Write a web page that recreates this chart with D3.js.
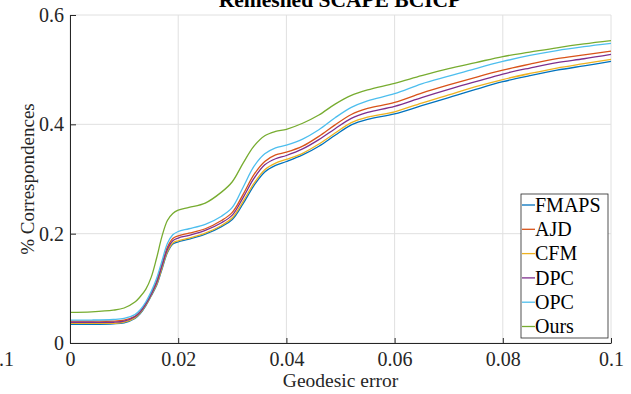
<!DOCTYPE html>
<html>
<head>
<meta charset="utf-8">
<script src="https://cdn.jsdelivr.net/npm/d3@7"></script>
<style>
  body { margin: 0; background: #fff; }
  text { font-family: "Liberation Serif", "Times New Roman", serif; fill: #262626; }
</style>
</head>
<body>
<svg id="chart"></svg>
<script>
// geodesic error thresholds
const errors = [0, 0.004, 0.008, 0.01, 0.012, 0.013, 0.014, 0.015, 0.016, 0.017, 0.018, 0.019, 0.02, 0.022, 0.025, 0.028, 0.03, 0.032, 0.034, 0.036, 0.038, 0.04, 0.043, 0.046, 0.049, 0.052, 0.055, 0.06, 0.065, 0.07, 0.075, 0.08, 0.085, 0.09, 0.095, 0.1];

const fmaps = [0.034, 0.034, 0.035, 0.037, 0.045, 0.054, 0.068, 0.086, 0.105, 0.135, 0.165, 0.181, 0.185, 0.190, 0.199, 0.213, 0.226, 0.255, 0.288, 0.313, 0.325, 0.332, 0.344, 0.360, 0.380, 0.399, 0.409, 0.419, 0.434, 0.449, 0.464, 0.478, 0.489, 0.499, 0.507, 0.515];
const ajd   = [0.040, 0.040, 0.040, 0.042, 0.049, 0.058, 0.072, 0.091, 0.113, 0.144, 0.175, 0.191, 0.196, 0.201, 0.209, 0.224, 0.239, 0.272, 0.308, 0.332, 0.344, 0.349, 0.360, 0.378, 0.399, 0.418, 0.429, 0.440, 0.457, 0.472, 0.486, 0.499, 0.510, 0.520, 0.527, 0.534];
const cfm   = [0.036, 0.036, 0.036, 0.038, 0.046, 0.055, 0.069, 0.087, 0.107, 0.137, 0.167, 0.183, 0.187, 0.192, 0.201, 0.215, 0.229, 0.259, 0.292, 0.317, 0.329, 0.336, 0.347, 0.364, 0.384, 0.403, 0.413, 0.423, 0.439, 0.454, 0.469, 0.482, 0.493, 0.503, 0.511, 0.519];
const dpc   = [0.038, 0.038, 0.038, 0.040, 0.048, 0.057, 0.071, 0.089, 0.110, 0.141, 0.171, 0.187, 0.192, 0.197, 0.206, 0.220, 0.234, 0.266, 0.301, 0.326, 0.337, 0.343, 0.355, 0.372, 0.392, 0.411, 0.422, 0.433, 0.449, 0.464, 0.478, 0.492, 0.503, 0.513, 0.520, 0.528];
const opc   = [0.042, 0.042, 0.043, 0.045, 0.052, 0.061, 0.075, 0.094, 0.118, 0.150, 0.182, 0.198, 0.204, 0.209, 0.217, 0.232, 0.248, 0.285, 0.323, 0.346, 0.357, 0.362, 0.373, 0.390, 0.412, 0.431, 0.443, 0.456, 0.474, 0.488, 0.502, 0.515, 0.526, 0.535, 0.542, 0.548];
const ours  = [0.056, 0.057, 0.060, 0.064, 0.075, 0.085, 0.098, 0.120, 0.155, 0.195, 0.224, 0.237, 0.243, 0.248, 0.256, 0.276, 0.295, 0.329, 0.360, 0.379, 0.387, 0.391, 0.402, 0.417, 0.437, 0.453, 0.463, 0.475, 0.489, 0.502, 0.513, 0.524, 0.532, 0.540, 0.547, 0.553];

const methods = ["FMAPS", "AJD", "CFM", "DPC", "OPC", "Ours"];
const seriesValues = [fmaps, ajd, cfm, dpc, opc, ours];
const colors = ["#0072BD", "#D95319", "#EDB120", "#7E2F8E", "#4DBEEE", "#77AC30"];

const xTicks = [0, 0.02, 0.04, 0.06, 0.08, 0.1];
const yTicks = [0, 0.2, 0.4, 0.6];

const width = 631, height = 394;
const margin = { top: 15, right: 20, bottom: 51, left: 70 };

const svg = d3.select("#chart")
  .attr("width", width)
  .attr("height", height);

const x = d3.scaleLinear()
  .domain([0, 0.1])
  .range([margin.left, width - margin.right]);

const y = d3.scaleLinear()
  .domain([0, 0.6])
  .range([height - margin.bottom, margin.top]);

// grid
svg.append("g")
  .selectAll("line")
  .data(xTicks)
  .join("line")
    .attr("x1", d => x(d)).attr("x2", d => x(d))
    .attr("y1", y(0)).attr("y2", y(0.6))
    .attr("stroke", "#e0e0e0");

svg.append("g")
  .selectAll("line")
  .data(yTicks)
  .join("line")
    .attr("x1", x(0)).attr("x2", x(0.1))
    .attr("y1", d => y(d)).attr("y2", d => y(d))
    .attr("stroke", "#e0e0e0");

// curves
const line = d3.line()
  .x(d => x(d[0]))
  .y(d => y(d[1]))
  .curve(d3.curveCatmullRom.alpha(0.5));

seriesValues.forEach((vals, i) => {
  svg.append("path")
    .datum(errors.map((e, j) => [e, vals[j]]))
    .attr("fill", "none")
    .attr("stroke", colors[i])
    .attr("stroke-width", 1.3)
    .attr("d", line);
});

// axes
const xAxis = d3.axisBottom(x)
  .tickValues(xTicks)
  .tickFormat(d3.format("~g"))
  .tickSizeInner(-5)
  .tickSizeOuter(0)
  .tickPadding(9);

const yAxis = d3.axisLeft(y)
  .tickValues(yTicks)
  .tickFormat(d3.format("~g"))
  .tickSizeInner(-6)
  .tickSizeOuter(0)
  .tickPadding(6);

const gx = svg.append("g")
  .attr("transform", `translate(0,${y(0)})`)
  .call(xAxis);

const gy = svg.append("g")
  .attr("transform", `translate(${x(0)},0)`)
  .call(yAxis);

[gx, gy].forEach(g => {
  g.selectAll(".domain, line").attr("stroke", "#262626");
  g.selectAll("text")
    .attr("fill", "#262626")
    .style("font-size", "20px")
    .style("font-family", "'Liberation Serif', serif");
});

// stray label from the neighbouring panel
svg.append("text")
  .attr("x", 14)
  .attr("y", 366)
  .attr("text-anchor", "end")
  .style("font-size", "20px")
  .text("0.1");

// labels
svg.append("text")
  .attr("x", (x(0) + x(0.1)) / 2)
  .attr("y", 387)
  .attr("text-anchor", "middle")
  .style("font-size", "19.5px")
  .text("Geodesic error");

svg.append("text")
  .attr("transform", "rotate(-90)")
  .attr("x", -179)
  .attr("y", 34)
  .attr("text-anchor", "middle")
  .style("font-size", "19px")
  .text("% Correspondences");

svg.append("text")
  .attr("x", 340)
  .attr("y", 7)
  .attr("text-anchor", "middle")
  .attr("font-weight", "bold")
  .style("font-size", "21.5px")
  .style("fill", "#000")
  .text("Remeshed SCAPE BCICP");

// legend
const legend = svg.append("g")
  .attr("transform", "translate(521,194)");

legend.append("rect")
  .attr("width", 87)
  .attr("height", 144)
  .attr("fill", "#fff")
  .attr("stroke", "#262626")
  .attr("stroke-width", 0.8);

const items = legend.selectAll(".item")
  .data(methods)
  .join("g")
    .attr("class", "item")
    .attr("transform", (d, i) => `translate(0,${11 + i * 24.3})`);

items.append("line")
  .attr("x1", 1).attr("x2", 14)
  .attr("stroke", (d, i) => colors[i])
  .attr("stroke-width", 1.3);

items.append("text")
  .attr("x", 14)
  .attr("dy", "0.34em")
  .style("font-size", "20px")
  .style("fill", "#000")
  .text(d => d);
</script>
</body>
</html>
